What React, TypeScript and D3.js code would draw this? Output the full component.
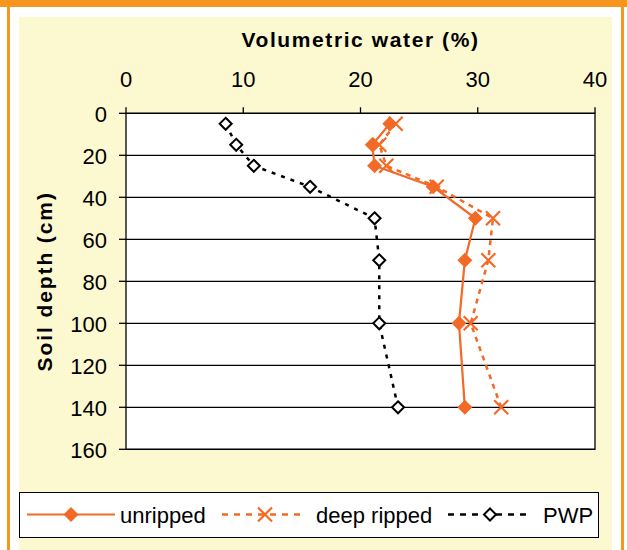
import React from "react";
import * as d3 from "d3";

const depths = [5, 15, 25, 35, 50, 70, 100, 140];
const unripped = [22.5, 21.0, 21.2, 26.2, 29.8, 28.9, 28.4, 28.9];
const deepRipped = [23.0, 21.6, 22.2, 26.5, 31.3, 30.9, 29.4, 32.0];
const pwp = [8.5, 9.4, 10.9, 15.7, 21.2, 21.6, 21.6, 23.2];
const xTicks = [0, 10, 20, 30, 40];
const yTicks = [0, 20, 40, 60, 80, 100, 120, 140, 160];
const seriesNames = ["unripped", "deep ripped", "PWP"];

const ORANGE = "#F26A25";
const BORDER = "#F7961E";
const CREAM = "#FCF8D0";
const FONT = "Liberation Sans, Arial, sans-serif";

export default function App() {
  const left = 126, right = 595, top = 113.3, bottom = 449.3;
  const x = d3.scaleLinear().domain([0, 40]).range([left, right]);
  const y = d3.scaleLinear().domain([0, 160]).range([top, bottom]);
  const line = (vals: number[]) =>
    d3.line<number>().x((v) => x(v)).y((_, i) => y(depths[i]))(vals) || "";

  const diamond = (cx: number, cy: number, r: number) =>
    `M${cx},${cy - r}L${cx + r},${cy}L${cx},${cy + r}L${cx - r},${cy}Z`;
  const cross = (cx: number, cy: number, r: number) =>
    `M${cx - r},${cy - r}L${cx + r},${cy + r}M${cx - r},${cy + r}L${cx + r},${cy - r}`;

  const legY = 514.5;
  return (
    <svg
      width={627}
      height={550}
      style={{ position: "absolute", left: 0, top: 0 }}
      fontFamily={FONT}
    >
      <rect x={0} y={0} width={627} height={550} fill="#ffffff" />
      <rect x={0} y={0} width={627} height={7} fill={BORDER} />
      <rect x={7} y={0} width={3} height={550} fill={BORDER} />
      <rect x={621} y={0} width={3} height={550} fill={BORDER} />
      <rect x={19} y={17} width={593} height={533} fill={CREAM} />

      {/* plot area */}
      <rect x={left} y={top} width={right - left} height={bottom - top} fill="#ffffff" stroke="#000" strokeWidth={1.3} />
      {yTicks.map((t) => (
        <line key={"g" + t} x1={left} x2={right} y1={y(t)} y2={y(t)} stroke="#000" strokeWidth={1.3} />
      ))}
      {/* ticks */}
      {xTicks.map((t) => (
        <g key={"xt" + t}>
          <line x1={x(t)} x2={x(t)} y1={top - 6} y2={top} stroke="#000" strokeWidth={1.3} />
          <text x={x(t)} y={87} textAnchor="middle" fontSize={22} fill="#000">{t}</text>
        </g>
      ))}
      {yTicks.map((t) => (
        <g key={"yt" + t}>
          <line x1={left - 7} x2={left} y1={y(t)} y2={y(t)} stroke="#000" strokeWidth={1.3} />
          <text x={107} y={y(t) + 8.5} textAnchor="end" fontSize={22} fill="#000">{t}</text>
        </g>
      ))}
      <text x={(left + right) / 2} y={47} textAnchor="middle" fontSize={21} fontWeight="bold" letterSpacing={1.6} fill="#000">
        Volumetric water (%)
      </text>
      <text
        transform={`translate(51.5,${(top + bottom) / 2}) rotate(-90)`}
        textAnchor="middle"
        fontSize={21}
        fontWeight="bold"
        letterSpacing={1.9}
        fill="#000"
      >
        Soil depth (cm)
      </text>

      {/* series */}
      <path d={line(pwp)} fill="none" stroke="#000" strokeWidth={2.5} strokeDasharray="4,6" />
      <path d={line(deepRipped)} fill="none" stroke={ORANGE} strokeWidth={2.5} strokeDasharray="5,5" />
      <path d={line(unripped)} fill="none" stroke={ORANGE} strokeWidth={2.2} />
      {pwp.map((v, i) => (
        <path key={"p" + i} d={diamond(x(v), y(depths[i]), 6)} fill="#fff" stroke="#000" strokeWidth={2} />
      ))}
      {unripped.map((v, i) => (
        <path key={"u" + i} d={diamond(x(v), y(depths[i]), 7.5)} fill={ORANGE} />
      ))}
      {deepRipped.map((v, i) => (
        <path key={"d" + i} d={cross(x(v), y(depths[i]), 7)} fill="none" stroke={ORANGE} strokeWidth={2.2} />
      ))}

      {/* legend */}
      <rect x={19.5} y={492.5} width={579} height={45} fill="#fff" stroke="#000" strokeWidth={1} />
      <line x1={27} x2={115} y1={legY} y2={legY} stroke={ORANGE} strokeWidth={2.2} />
      <path d={diamond(71, legY, 7.5)} fill={ORANGE} />
      <text x={120} y={legY + 8} fontSize={22} fill="#000">{seriesNames[0]}</text>
      <line x1={222} x2={306} y1={legY} y2={legY} stroke={ORANGE} strokeWidth={2.5} strokeDasharray="6,6" />
      <path d={cross(265, legY, 7)} fill="none" stroke={ORANGE} strokeWidth={2.2} />
      <text x={316} y={legY + 8} fontSize={22} fill="#000">{seriesNames[1]}</text>
      <line x1={448} x2={532} y1={legY} y2={legY} stroke="#000" strokeWidth={2.5} strokeDasharray="6,6" />
      <path d={diamond(490, legY, 6)} fill="#fff" stroke="#000" strokeWidth={2} />
      <text x={543} y={legY + 8} fontSize={22} fill="#000">{seriesNames[2]}</text>
    </svg>
  );
}
